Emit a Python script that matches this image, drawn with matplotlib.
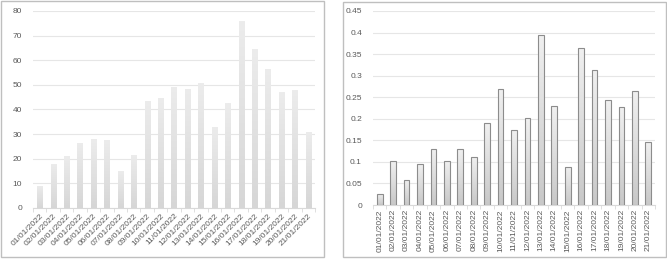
import matplotlib
matplotlib.use("Agg")
import matplotlib.pyplot as plt
import numpy as np
from matplotlib.patches import Rectangle

dates = ["01/01/2022", "02/01/2022", "03/01/2022", "04/01/2022", "05/01/2022",
         "06/01/2022", "07/01/2022", "08/01/2022", "09/01/2022", "10/01/2022",
         "11/01/2022", "12/01/2022", "13/01/2022", "14/01/2022", "15/01/2022",
         "16/01/2022", "17/01/2022", "18/01/2022", "19/01/2022", "20/01/2022",
         "21/01/2022"]
left_values = [9, 18, 21, 26.5, 28, 27.5, 15.2, 21.7, 43.5, 44.8, 49.2, 48.5,
               50.7, 33, 42.5, 75.8, 64.5, 56.5, 47, 47.8, 31]
right_values = [0.026, 0.101, 0.059, 0.094, 0.129, 0.103, 0.129, 0.112, 0.19,
                0.268, 0.174, 0.201, 0.395, 0.229, 0.089, 0.364, 0.314, 0.243,
                0.227, 0.264, 0.147]
left_yticks = [0, 10, 20, 30, 40, 50, 60, 70, 80]
right_yticks = [0, 0.05, 0.1, 0.15, 0.2, 0.25, 0.3, 0.35, 0.4, 0.45]
right_yticklabels = ["0", "0.05", "0.1", "0.15", "0.2", "0.25", "0.3", "0.35", "0.4", "0.45"]

plt.rcParams['font.family'] = ['Liberation Sans', 'DejaVu Sans']
W, H = 667, 259
fig = plt.figure(figsize=(W / 100, H / 100), dpi=100)

# panel frames
for (x0, y0, x1, y1) in [(1, 1, 324, 257), (343, 2, 666, 257)]:
    fig.patches.append(Rectangle((x0 / W, 1 - y1 / H), (x1 - x0) / W, (y1 - y0) / H,
                                 transform=fig.transFigure, fill=False,
                                 edgecolor="#bfbfbf", linewidth=1.0))

label_color = "#595959"
grid_color = "#e6e6e6"


def gradient_bars(ax, x, vals, width, top, bottom, edge):
    bars = ax.bar(x, vals, width=width, color="none",
                  edgecolor=edge if edge else "none", linewidth=0.8, zorder=3)
    grad = np.linspace(0, 1, 100).reshape(-1, 1)
    from matplotlib.colors import LinearSegmentedColormap
    cmap = LinearSegmentedColormap.from_list("g", [bottom, top])
    for b in bars:
        bx, by = b.get_x(), b.get_y()
        bw, bh = b.get_width(), b.get_height()
        im = ax.imshow(grad, extent=(bx, bx + bw, by, by + bh), origin="lower",
                       cmap=cmap, aspect="auto", zorder=2)
        im.set_clip_path(b)
    return bars


def style(ax, ymax, yticks, ylabels):
    x = np.arange(len(dates))
    ax.set_xlim(-0.5, len(dates) - 0.5)
    ax.set_ylim(0, ymax)
    ax.set_yticks(yticks)
    ax.set_yticklabels(ylabels, fontsize=6, color=label_color)
    ax.grid(axis="y", color=grid_color, linewidth=0.8, zorder=0)
    for s in ["top", "right", "left"]:
        ax.spines[s].set_visible(False)
    ax.spines["bottom"].set_color("#d9d9d9")
    ax.tick_params(axis="y", length=0, pad=8)
    ax.set_xticks(x)
    ax.set_xticks(np.arange(-0.5, len(dates), 1), minor=True)
    ax.tick_params(axis="x", which="major", length=0, pad=3)
    ax.tick_params(axis="x", which="minor", length=3, color="#d9d9d9")
    return x


ax1 = fig.add_axes([33 / W, 1 - 208 / H, 282 / W, 197 / H])
x = style(ax1, 80, left_yticks, [str(v) for v in left_yticks])
gradient_bars(ax1, x, left_values, 0.38, "#ececec", "#d6d6d6", None)
ax1.set_xticklabels(dates, fontsize=6, color=label_color, rotation=45,
                    ha="right", rotation_mode="anchor")

ax2 = fig.add_axes([373 / W, 1 - 205 / H, 282 / W, 194 / H])
x = style(ax2, 0.45, right_yticks, right_yticklabels)
gradient_bars(ax2, x, right_values, 0.42, "#f0f0f0", "#c8c8c8", "#8c8c8c")
ax2.set_xticklabels(dates, fontsize=6, color=label_color, rotation=90,
                    ha="center", va="top")

fig.savefig("out.png", dpi=100)
